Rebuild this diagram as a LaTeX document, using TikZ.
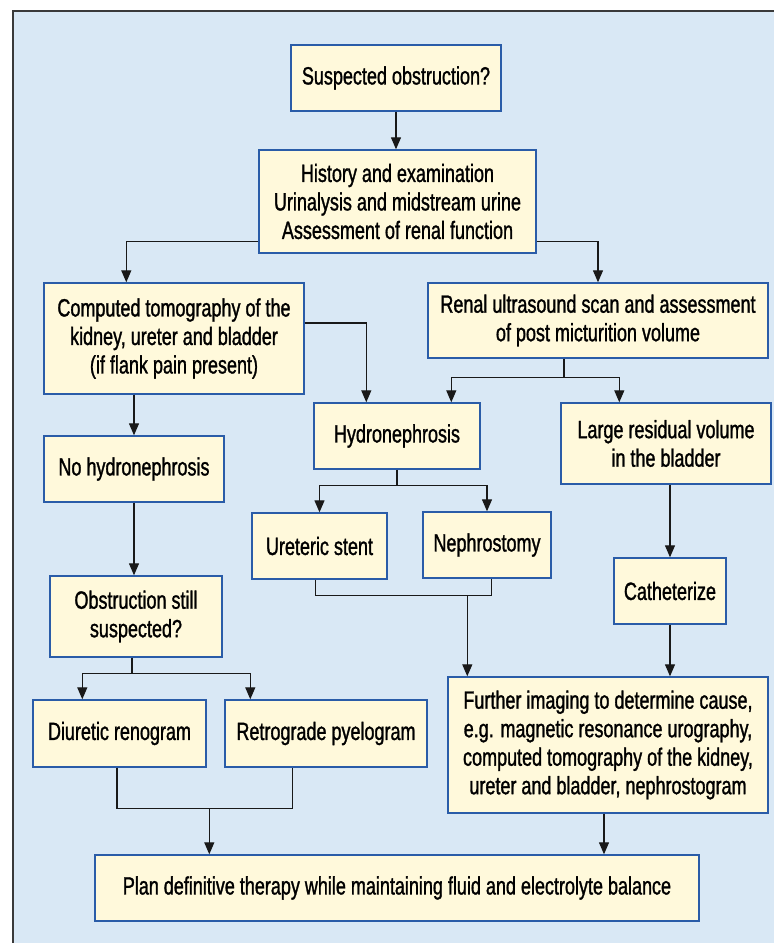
\documentclass[tikz,border=0pt]{standalone}
\usepackage{fontspec}
\setmainfont{Liberation Sans}[FakeStretch=0.72,FakeBold=1.2]
\usetikzlibrary{arrows.meta}
\definecolor{bgblue}{HTML}{D9E8F5}
\definecolor{boxfill}{HTML}{FFF9DB}
\definecolor{boxline}{HTML}{2A5CA8}
\definecolor{framegray}{HTML}{3A3A3A}
\begin{document}
\begin{tikzpicture}[x=1pt,y=-1pt,
  box/.style={draw=boxline, line width=1.4pt, fill=boxfill, inner sep=0pt, align=center,
    font=\fontsize{25}{28.5}\selectfont, text=black},
  conn/.style={draw=black!90, line width=1.3pt},
  arr/.style={conn, -{Triangle[length=12pt,width=10pt]}}]
\useasboundingbox (0,0) rectangle (774,943);
\fill[white] (0,0) rectangle (774,943);
\fill[bgblue] (12,11) rectangle (774,943);
\draw[framegray, line width=2pt] (13,943) -- (13,11) -- (774,11);

\node[box, minimum width=210pt, minimum height=66pt] (susp) at (396,78) {Suspected obstruction?};
\node[box, minimum width=277pt, minimum height=103pt] (hist) at (397.5,201.5) {History and examination\\Urinalysis and midstream urine\\Assessment of renal function};
\node[box, minimum width=260pt, minimum height=111pt] (ct) at (174,338.5) {Computed tomography of the\\kidney, ureter and bladder\\(if flank pain present)};
\node[box, minimum width=340pt, minimum height=75pt] (renal) at (598,320.5) {Renal ultrasound scan and assessment\\of post micturition volume};
\node[box, minimum width=166pt, minimum height=66pt] (hydro) at (397,436) {Hydronephrosis};
\node[box, minimum width=210pt, minimum height=81pt] (large) at (666,443.5) {Large residual volume\\in the bladder};
\node[box, minimum width=180pt, minimum height=66pt] (nohydro) at (134,469) {No hydronephrosis};
\node[box, minimum width=135pt, minimum height=66pt] (ureteric) at (319.5,546) {Ureteric stent};
\node[box, minimum width=128pt, minimum height=66pt] (nephro) at (487,545) {Nephrostomy};
\node[box, minimum width=172pt, minimum height=81pt] (obst) at (136,616.5) {Obstruction still\\suspected?};
\node[box, minimum width=112pt, minimum height=66pt] (cath) at (670,591) {Catheterize};
\node[box, minimum width=173pt, minimum height=67pt] (diur) at (119.5,733.5) {Diuretic renogram};
\node[box, minimum width=202pt, minimum height=67pt] (retro) at (326,733.5) {Retrograde pyelogram};
\node[box, minimum width=320pt, minimum height=136pt] (further) at (608,745) {Further imaging to determine cause,\\e.g. magnetic resonance urography,\\computed tomography of the kidney,\\ureter and bladder, nephrostogram};
\node[box, minimum width=604pt, minimum height=66pt] (plan) at (397,888) {Plan definitive therapy while maintaining fluid and electrolyte balance};

\draw[arr] (susp.south) -- (susp.south |- hist.north);
\draw[arr] ([yshift=12pt]hist.south west) -| ([xshift=83pt]ct.north west);
\draw[arr] ([yshift=12pt]hist.south east) -| (renal.north);
\draw[arr] (nohydro.north |- ct.south) -- (nohydro.north);
\draw[arr] ([yshift=15.5pt]ct.east) -| ([xshift=53pt]hydro.north west);
\draw[conn] ([xshift=-34pt]renal.south) -- ++(0,19) coordinate (rj);
\draw[arr] (rj) -| ([xshift=138pt]hydro.north west);
\draw[arr] (rj) -| ([xshift=59pt]large.north west);
\draw[conn] (hydro.south) -- ++(0,16) coordinate (hj);
\draw[arr] (hj) -| (ureteric.north);
\draw[arr] (hj) -| (nephro.north);
\draw[conn] ([xshift=64pt]ureteric.south west) -- ++(0,16) coordinate (uj) -| ([xshift=69pt]nephro.south west);
\coordinate (fin) at ([xshift=20pt]further.north west);
\draw[arr] (uj -| fin) -- (fin);
\draw[arr] (cath.north |- large.south) -- (cath.north);
\draw[arr] (cath.south) -- (cath.south |- further.north);
\draw[arr] (nohydro.south) -- (nohydro.south |- obst.north);
\draw[conn] ([xshift=-4pt]obst.south) -- ++(0,16) coordinate (oj);
\draw[arr] (oj) -| ([xshift=50pt]diur.north west);
\draw[arr] (oj) -| ([xshift=26pt]retro.north west);
\draw[conn] ([xshift=-2.5pt]diur.south) -- ++(0,41) coordinate (dj) -| ([xshift=68pt]retro.south west);
\coordinate (pin) at ([xshift=115pt]plan.north west);
\draw[arr] (dj -| pin) -- (pin);
\coordinate (fout) at ([xshift=-4pt]further.south);
\draw[arr] (fout) -- (fout |- plan.north);
\end{tikzpicture}
\end{document}
